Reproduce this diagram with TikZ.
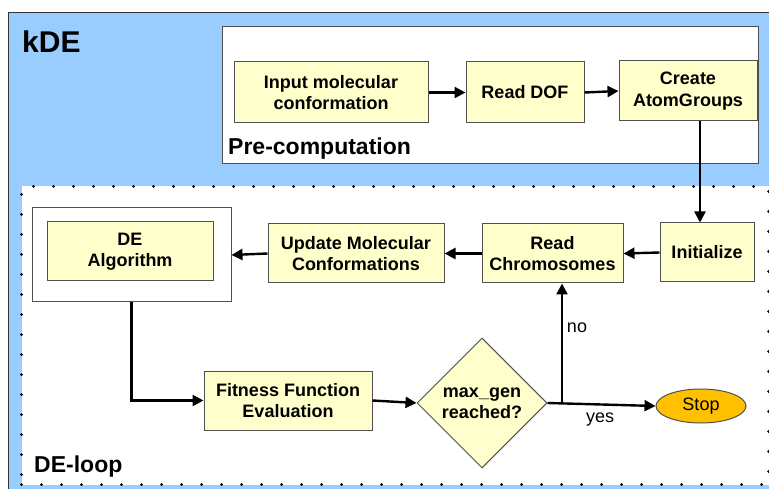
\documentclass[tikz,border=0pt]{standalone}
\usepackage{fontspec}
\setmainfont{Liberation Sans}
\usepackage{tikz}
\usetikzlibrary{arrows.meta}
\usetikzlibrary{shapes.geometric}
\definecolor{kdeblue}{HTML}{99CCFF}
\definecolor{boxyellow}{HTML}{FFFFCC}
\definecolor{stoporange}{HTML}{FFC000}
\definecolor{edgegray}{HTML}{505050}
\tikzstyle{kdeframe} = [rectangle, draw=black!80, line width=1pt, fill=kdeblue, inner sep=0pt]
\tikzstyle{holdbox} = [rectangle, draw=edgegray, line width=1pt, fill=white, inner sep=0pt]
\tikzstyle{loopframe} = [rectangle, draw=black, fill=white, line width=3pt, line cap=round, dash pattern=on 0pt off 20pt, inner sep=0pt]
\tikzstyle{procbox} = [rectangle, draw=edgegray, line width=1pt, fill=boxyellow, align=center, inner sep=0pt, font=\fontsize{18}{21.5}\selectfont\bfseries]
\tikzstyle{decision} = [diamond, aspect=1, draw=edgegray, line width=1pt, fill=boxyellow, align=center, inner sep=0pt, font=\fontsize{18}{21.5}\selectfont\bfseries]
\tikzstyle{terminal} = [ellipse, draw=edgegray, line width=1pt, fill=stoporange, inner sep=0pt, font=\fontsize{18}{21}\selectfont]
\tikzstyle{flow} = [line width=2.4pt, -{Triangle[length=11pt,width=11pt]}]
\tikzstyle{title} = [anchor=base west, inner sep=0pt]
\tikzstyle{branch} = [inner sep=0pt, font=\fontsize{18}{21}\selectfont]

\begin{document}
\begin{tikzpicture}[x=1pt, y=-1pt]
\useasboundingbox (0,0) rectangle (769,489);

% FRAMES
% kDE (outer), pre-computation, DE-loop
\node[kdeframe, minimum width=768pt, minimum height=484pt, anchor=north west] (kde) at (8,12) {};
\node[holdbox, line width=1.2pt, minimum width=536pt, minimum height=137pt, anchor=north west] (precomp) at (222,26) {};
\node[loopframe, minimum width=747pt, minimum height=298pt, anchor=north west] (deloop) at (20,185) {};
% frame titles
\node[title, font=\fontsize{30}{36}\selectfont\bfseries] (tkde) at (22,53) {kDE};
\node[title, font=\fontsize{23}{28}\selectfont\bfseries] (tpre) at (228,155) {Pre-computation};
\node[title, font=\fontsize{23}{28}\selectfont\bfseries] (tloop) at (34,472) {DE-loop};

% Pre-computation steps
\node[procbox, minimum width=194pt, minimum height=61pt] (input) at (331,92.5) {Input molecular\\conformation};
\node[procbox, minimum width=118pt, minimum height=61pt] (readdof) at (525,92.5) {Read DOF};
\node[procbox, minimum width=138pt, minimum height=60pt] (atomgrp) at (688,91) {Create\\AtomGroups};

% DE-loop steps
\node[procbox, minimum width=94pt, minimum height=59pt] (init) at (707,252.5) {Initialize};
\node[procbox, minimum width=141pt, minimum height=59pt] (readchr) at (552.5,253.5) {Read\\Chromosomes};
\node[procbox, minimum width=176pt, minimum height=59pt] (update) at (356,253.5) {Update Molecular\\Conformations};
\node[holdbox, minimum width=199pt, minimum height=94pt] (defrm) at (131.5,255) {};
\node[procbox, minimum width=166pt, minimum height=59pt] (dealg) at (130,251.5) {DE\\Algorithm};
\node[procbox, minimum width=168pt, minimum height=59pt] (fitness) at (288,400.5) {Fitness Function\\Evaluation};
\node[decision, minimum width=130pt, minimum height=130pt] (maxgen) at (482,403) {max\_gen\\reached?};
\node[terminal, minimum width=90pt, minimum height=34pt] (stop) at (701,406) {Stop};

% CONNECTORS
\coordinate (drop) at (700,0);
\coordinate (split) at (562,403);
\draw[flow] (input.east) -- (readdof.west);
\draw[flow] (readdof.east) -- (atomgrp.west);
\draw[flow] (drop |- atomgrp.south) -- (drop |- init.north);
\draw[flow] (init.west) -- (readchr.east);
\draw[flow] (readchr.west) -- (update.east);
\draw[flow] (update.west) -- (defrm.east);
\draw[flow] (defrm.south) -- (defrm.south |- fitness.west) -- (fitness.west);
\draw[flow] (fitness.east) -- (maxgen.west);
\draw[flow] (maxgen.east) -- (stop.west);
\draw[flow] (split) -- (split |- readchr.south);
% branch labels
\node[branch] (lno) at (577,328) {no};
\node[branch] (lyes) at (600,420) {yes};
\end{tikzpicture}
\end{document}
